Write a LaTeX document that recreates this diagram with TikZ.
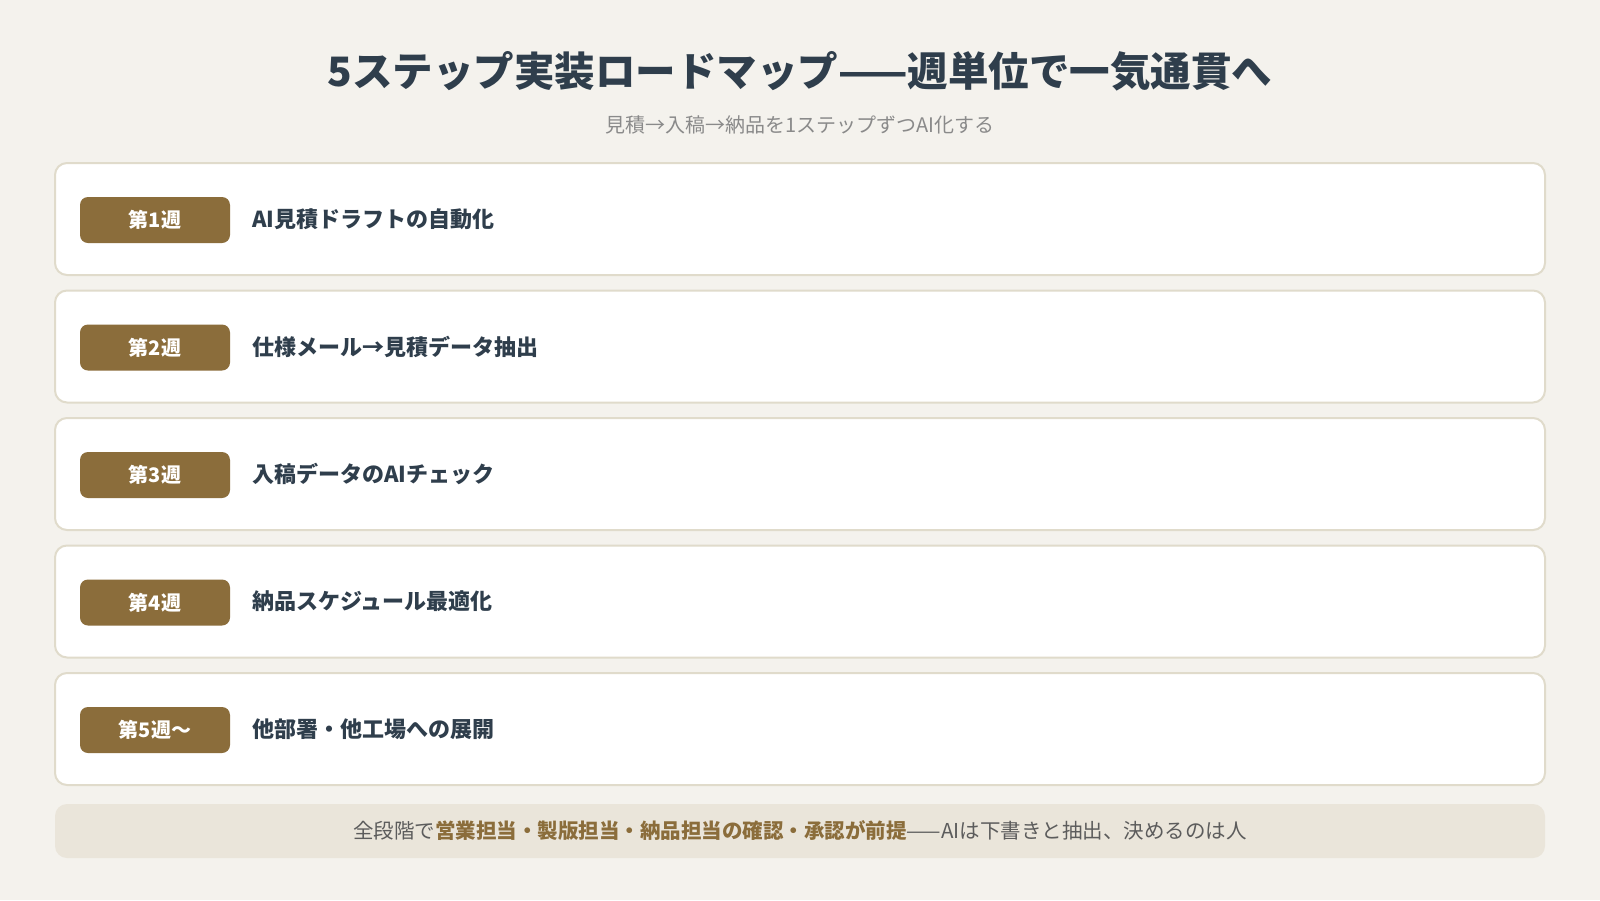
\documentclass[tikz,border=0pt]{standalone}
\usepackage{fontspec}
\setmainfont{Noto Sans CJK JP}
\definecolor{paperbg}{HTML}{F4F2ED}
\definecolor{inkslate}{HTML}{2F3E4C}
\definecolor{subgrey}{HTML}{8A8A8A}
\definecolor{cardline}{HTML}{E0DBCB}
\definecolor{badgebrown}{HTML}{8B6D3B}
\definecolor{bandfill}{HTML}{EAE5DA}
\definecolor{notegrey}{HTML}{5C5C5C}
\begin{document}
\begin{tikzpicture}[x=1pt, y=-1pt,
    card/.style={draw=cardline, line width=2pt, fill=white, rounded corners=12pt},
    badge/.style={fill=badgebrown, rounded corners=8pt, text=white, inner sep=0pt,
        minimum width=150pt, minimum height=46pt, font=\fontsize{20}{24}\selectfont\bfseries},
    steptext/.style={anchor=west, inner sep=0pt, text=inkslate, font=\fontsize{22}{26}\selectfont\bfseries}]
    \fill[paperbg] (0,0) rectangle (1600,900);
    \node[text=inkslate, font=\fontsize{40.5}{48}\selectfont\bfseries] (title) at (800,71)
        {5ステップ実装ロードマップ——週単位で一気通貫へ};
    \node[text=subgrey, font=\fontsize{20}{24}\selectfont] (subtitle) at (800,125)
        {見積→入稿→納品を1ステップずつAI化する};
    \foreach \n/\wk/\txt in {1/第1週/AI見積ドラフトの自動化,
                             2/第2週/仕様メール→見積データ抽出,
                             3/第3週/入稿データのAIチェック,
                             4/第4週/納品スケジュール最適化,
                             5/第5週〜/他部署・他工場への展開} {
        \pgfmathsetmacro{\rowtop}{163+127.5*(\n-1)}
        \draw[card] (55,\rowtop) rectangle (1545,\rowtop+112);
        \node[badge] (badge\n) at (155,\rowtop+57) {\wk};
        \node[steptext] (step\n) at (252,\rowtop+56) {\txt};
    }
    \fill[bandfill, rounded corners=12pt] (55,804) rectangle (1545,858);
    \node[text=notegrey, font=\fontsize{20.5}{24}\selectfont] (note) at (800,831)
        {全段階で{\bfseries\color{badgebrown}営業担当・製版担当・納品担当の確認・承認が前提}——AIは下書きと抽出、決めるのは人};
\end{tikzpicture}
\end{document}
